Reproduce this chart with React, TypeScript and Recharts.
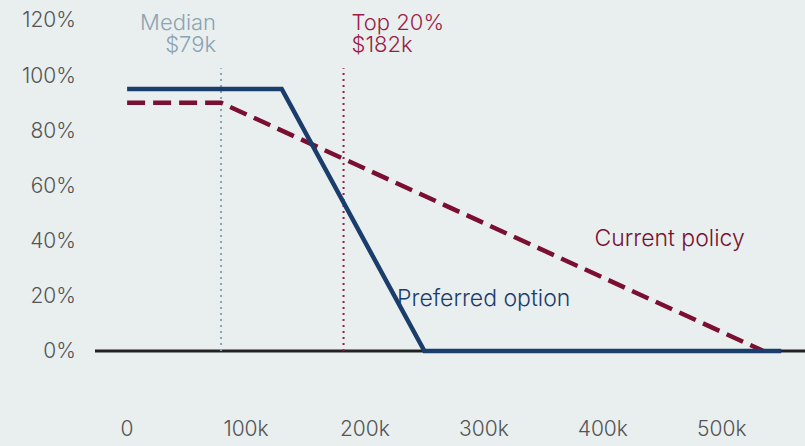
import { LineChart, Line, XAxis, YAxis, ReferenceLine, ReferenceDot } from "recharts";

// income thresholds and withdrawal rates
const preferredIncome = [0, 130000, 250000, 550000];
const preferredRate = [0.95, 0.95, 0, 0];
const currentIncome = [0, 79000, 535000];
const currentRate = [0.9, 0.9, 0];

const xTicks = [0, 100000, 200000, 300000, 400000, 500000];
const yTicks = [0, 0.2, 0.4, 0.6, 0.8, 1.0, 1.2];

const medianIncome = 79000;
const top20Income = 182000;

const preferred = preferredIncome.map((x, i) => ({ x, y: preferredRate[i] }));
const current = currentIncome.map((x, i) => ({ x, y: currentRate[i] }));

const NAVY = "#1b3d6b";
const CRIMSON = "#7a0f31";
const GREYBLUE = "#8ba3b2";
const RED = "#9b1c46";
const FONT = "Inter, 'Liberation Sans', sans-serif";

const fmtX = (v: number) => (v === 0 ? "0" : `${v / 1000}k`);
const fmtY = (v: number) => `${Math.round(v * 100)}%`;

function MarkerLabel({ viewBox, lines, color, anchor }: any) {
  const { x, y } = viewBox;
  const tx = anchor === "end" ? x - 5 : x + 8;
  return (
    <g fill={color} fontSize={22} fontFamily={FONT} fontWeight={300} textAnchor={anchor}>
      <text x={tx} y={y - 38}>{lines[0]}</text>
      <text x={tx} y={y - 16}>{lines[1]}</text>
    </g>
  );
}

function SeriesLabel({ viewBox, text, color }: any) {
  const { x, y } = viewBox;
  return (
    <text x={x} y={y} dominantBaseline="middle" fill={color} fontSize={23} fontWeight={300} fontFamily={FONT}>
      {text}
    </text>
  );
}

const tickStyle = { fill: "#555", fontSize: 21, fontWeight: 300, fontFamily: FONT };

export default function App() {
  return (
    <div style={{ position: "fixed", top: 0, left: 0, width: 805, height: 446, background: "#e9efef" }}>
      <LineChart width={805} height={446} margin={{ top: 20, right: 0, left: 0, bottom: 0 }}>
        <XAxis
          type="number"
          dataKey="x"
          domain={[-27000, 570000]}
          ticks={xTicks}
          tickFormatter={fmtX}
          axisLine={false}
          tickLine={false}
          tickSize={0}
          tickMargin={1}
          height={26}
          allowDataOverflow
          tick={tickStyle}
        />
        <YAxis
          type="number"
          domain={[-0.25, 1.2]}
          ticks={yTicks}
          tickFormatter={fmtY}
          axisLine={false}
          tickLine={false}
          tickSize={0}
          tickMargin={19}
          width={95}
          allowDataOverflow
          tick={tickStyle}
        />
        <ReferenceLine y={0} stroke="#222" strokeWidth={3} />
        <ReferenceLine
          segment={[{ x: medianIncome, y: 0 }, { x: medianIncome, y: 1.025 }]}
          stroke={GREYBLUE}
          strokeWidth={2}
          strokeDasharray="2 4"
          label={<MarkerLabel lines={["Median", "$79k"]} color={GREYBLUE} anchor="end" />}
        />
        <ReferenceLine
          segment={[{ x: top20Income, y: 0 }, { x: top20Income, y: 1.025 }]}
          stroke={RED}
          strokeWidth={2}
          strokeDasharray="2 4"
          label={<MarkerLabel lines={["Top 20%", "$182k"]} color={RED} anchor="start" />}
        />
        <Line
          data={current}
          dataKey="y"
          stroke={CRIMSON}
          strokeWidth={4.5}
          strokeDasharray="18 8"
          dot={false}
          type="linear"
          isAnimationActive={false}
        />
        <Line
          data={preferred}
          dataKey="y"
          stroke={NAVY}
          strokeWidth={4.5}
          dot={false}
          type="linear"
          isAnimationActive={false}
        />
        <ReferenceDot x={393000} y={0.402} r={0} fill="none" stroke="none"
          label={<SeriesLabel text="Current policy" color={CRIMSON} />} />
        <ReferenceDot x={227000} y={0.185} r={0} fill="none" stroke="none"
          label={<SeriesLabel text="Preferred option" color={NAVY} />} />
      </LineChart>
    </div>
  );
}
